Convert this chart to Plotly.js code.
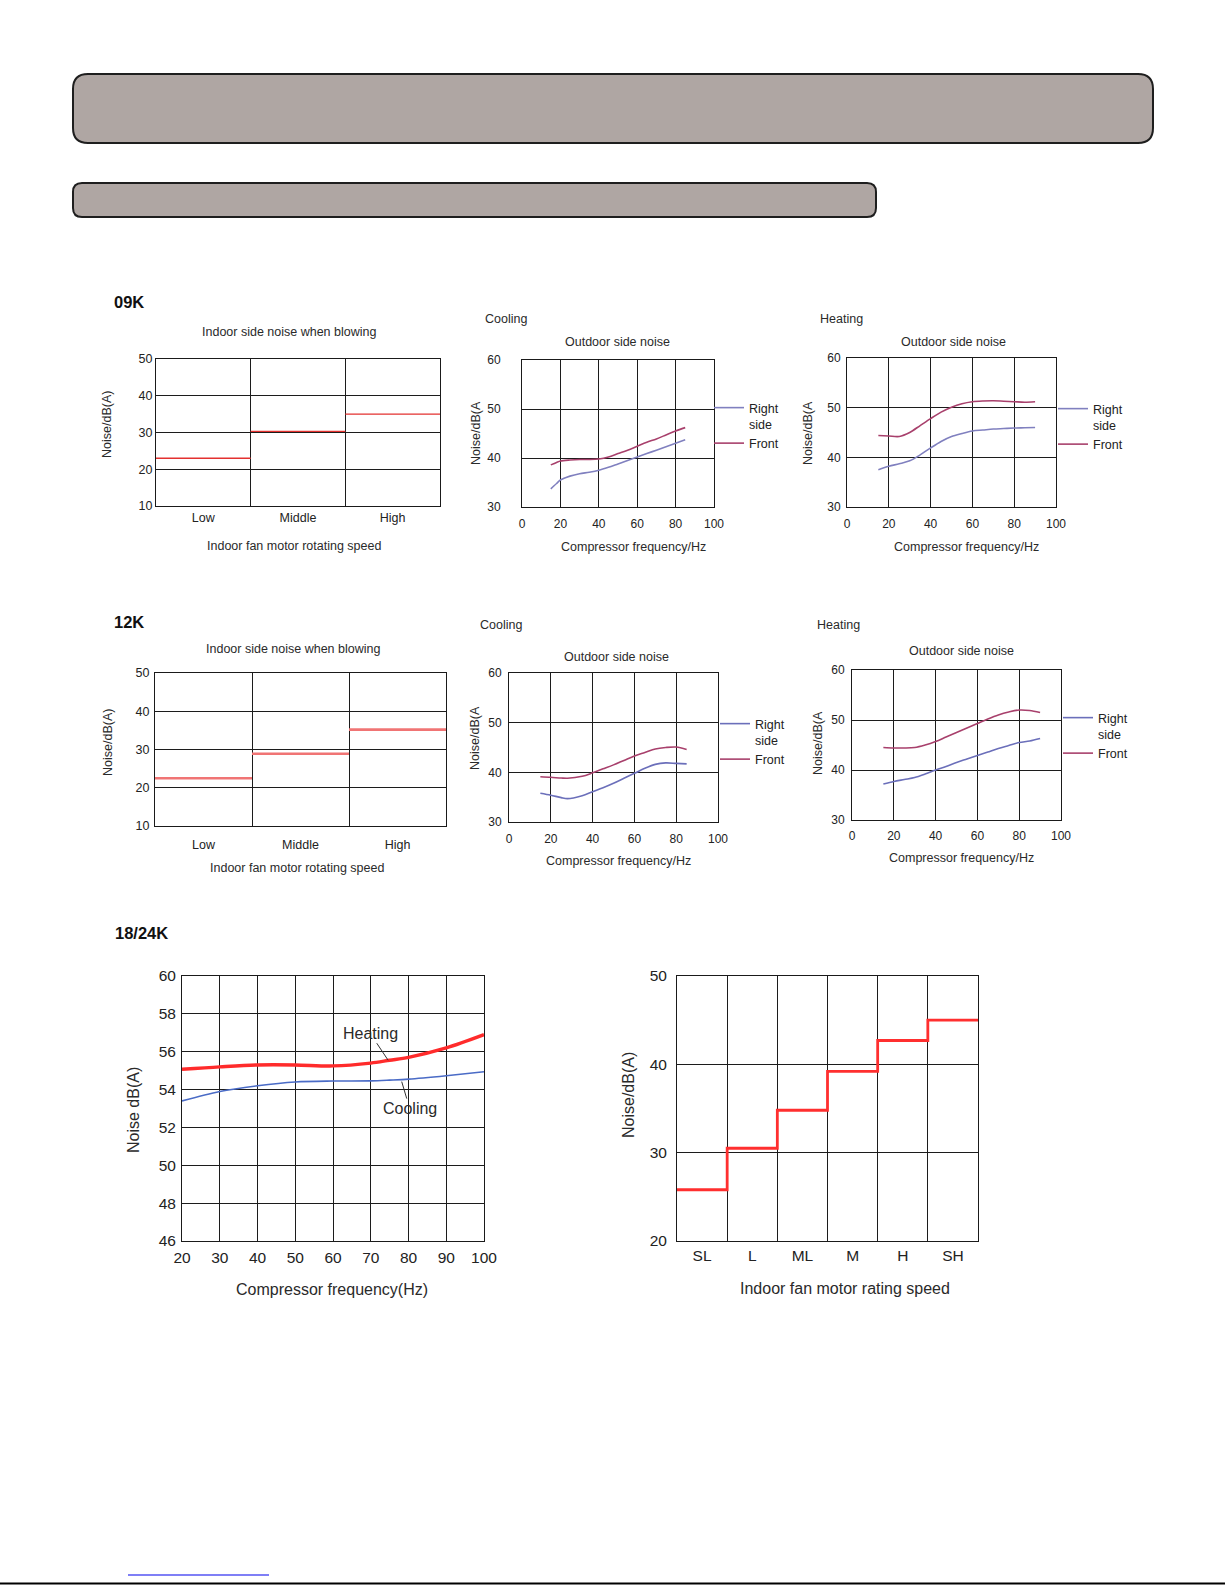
<!DOCTYPE html>
<html>
<head>
<meta charset="utf-8">
<script src="https://cdn.plot.ly/plotly-3.0.1.min.js"></script>
<style>
html,body{margin:0;padding:0;background:#fff;}
#chart{width:1225px;height:1585px;}
</style>
</head>
<body>
<div id="chart"></div>
<script>
// ---------------- DATA ----------------
const indoorSpeeds = ['Low', 'Middle', 'High'];
const indoor09K = [23, 30.3, 35];
const indoor12K = [22.5, 28.9, 35.2];

const freq09Cool  = [15, 18, 20, 25, 30, 35, 40, 45, 50, 55, 60, 65, 70, 75, 80, 85];
const right09Cool = [33.7, 34.8, 35.5, 36.3, 36.8, 37.1, 37.5, 38.1, 38.8, 39.5, 40.2, 40.9, 41.6, 42.3, 43.0, 43.7];
const front09Cool = [38.6, 39.1, 39.4, 39.6, 39.7, 39.7, 39.8, 40.2, 40.9, 41.6, 42.4, 43.2, 43.9, 44.7, 45.5, 46.2];

const freq09Heat  = [15, 20, 25, 30, 35, 40, 45, 50, 55, 60, 65, 70, 75, 80, 85, 90];
const right09Heat = [37.5, 38.2, 38.7, 39.3, 40.5, 41.9, 43.2, 44.2, 44.8, 45.3, 45.5, 45.7, 45.8, 45.9, 45.95, 46.0];
const front09Heat = [44.4, 44.3, 44.2, 45.0, 46.4, 47.8, 49.1, 50.1, 50.8, 51.2, 51.35, 51.4, 51.3, 51.2, 51.1, 51.2];

const freq12Cool  = [15, 20, 25, 28, 35, 40, 45, 50, 55, 60, 65, 70, 75, 80, 85];
const right12Cool = [35.8, 35.4, 34.9, 34.7, 35.3, 36.1, 36.9, 37.8, 38.8, 39.8, 40.8, 41.6, 41.9, 41.8, 41.7];
const front12Cool = [39.1, 39.0, 38.85, 38.8, 39.2, 39.9, 40.7, 41.5, 42.4, 43.3, 44.0, 44.7, 45.0, 45.1, 44.6];

const freq12Heat  = [15, 20, 25, 30, 35, 40, 45, 50, 55, 60, 65, 70, 75, 80, 85, 90];
const right12Heat = [37.2, 37.7, 38.1, 38.5, 39.2, 40.0, 40.7, 41.5, 42.2, 42.9, 43.6, 44.3, 44.9, 45.5, 45.8, 46.3];
const front12Heat = [44.5, 44.4, 44.4, 44.5, 45.0, 45.7, 46.6, 47.5, 48.4, 49.3, 50.2, 51.0, 51.6, 52.0, 51.9, 51.5];

const freq1824    = [20, 30, 40, 50, 60, 70, 75, 80, 90, 100];
const heating1824 = [55.07, 55.2, 55.3, 55.3, 55.25, 55.4, 55.55, 55.7, 56.2, 56.9];
const cooling1824 = [53.4, 53.9, 54.2, 54.4, 54.45, 54.46, 54.5, 54.55, 54.73, 54.94];

const ratingSpeeds = ['SL', 'L', 'ML', 'M', 'H', 'SH'];
const rating1824   = [25.8, 30.5, 34.8, 39.2, 42.7, 45.0];

// ---------------- LAYOUT HELPERS ----------------
const W = 1225, H = 1585;
const FONT = 'Liberation Sans, Arial, Helvetica, sans-serif';
const TXT = '#2a2a2a';
const GRID = '#1c1c1c';
const RIGHT_09 = '#8080bf';
const RIGHT_12 = '#6b6fba';
const FRONT_C = '#a8406c';

const layout = {
  width: W, height: H,
  margin: {l: 0, r: 0, t: 0, b: 0},
  paper_bgcolor: '#fff', plot_bgcolor: 'rgba(0,0,0,0)',
  showlegend: true,
  font: {family: FONT, color: TXT},
  annotations: [], shapes: []
};

const baseAx = {
  showline: true, mirror: true, linecolor: '#1a1a1a', linewidth: 1,
  showgrid: true, gridcolor: GRID, gridwidth: 1,
  zeroline: false, ticks: '', fixedrange: true
};

function addSub(n, p, xa, ya, fs, xOff, yGap) {
  const s = n === 1 ? '' : String(n);
  layout['xaxis' + s] = Object.assign({}, baseAx, {
    domain: [p.x0 / W, p.x1 / W], anchor: 'y' + s,
    tickfont: {family: FONT, size: fs, color: '#222'},
    ticklabelstandoff: Math.max(0, Math.round(xOff - 3 - fs * 0.5))
  }, xa);
  layout['yaxis' + s] = Object.assign({}, baseAx, {
    domain: [1 - p.y1 / H, 1 - p.y0 / H], anchor: 'x' + s,
    tickfont: {family: FONT, size: fs, color: '#222'},
    ticklabelstandoff: Math.max(0, Math.round(yGap - 3))
  }, ya);
}

function catAxis(cats) {
  return {
    range: [0, cats.length], tickmode: 'array',
    tickvals: cats.map((_, i) => i + 0.5), ticktext: cats, showgrid: false,
    minor: {tickmode: 'array', tickvals: cats.slice(1).map((_, i) => i + 1),
            showgrid: true, gridcolor: GRID, gridwidth: 1, ticks: ''}
  };
}

const numX = {range: [0, 100], tickmode: 'linear', tick0: 0, dtick: 20};
const numY = {range: [30, 60], tickmode: 'linear', tick0: 30, dtick: 10};

// subplot boxes (pixels)
const P = {
  a: {x0: 156, x1: 440, y0: 359, y1: 506},
  b: {x0: 522, x1: 714, y0: 360, y1: 507},
  c: {x0: 847, x1: 1056, y0: 358, y1: 507},
  d: {x0: 155, x1: 446, y0: 673, y1: 826},
  e: {x0: 509, x1: 718, y0: 673, y1: 822},
  f: {x0: 852, x1: 1061, y0: 670, y1: 820},
  g: {x0: 182, x1: 484, y0: 976, y1: 1241},
  h: {x0: 677, x1: 978, y0: 976, y1: 1241}
};

const indoorY = {range: [10, 50], tickmode: 'linear', tick0: 10, dtick: 10};
addSub(1, P.a, catAxis(indoorSpeeds), indoorY, 12.5, 9, 3);
addSub(2, P.b, numX, numY, 12, 15, 21);
addSub(3, P.c, numX, numY, 12, 15, 6);
addSub(4, P.d, catAxis(indoorSpeeds), indoorY, 12.5, 16, 5);
addSub(5, P.e, numX, numY, 12, 15, 7);
addSub(6, P.f, numX, numY, 12, 13.5, 7);
addSub(7, P.g, {range: [20, 100], tickmode: 'linear', tick0: 20, dtick: 10},
               {range: [46, 60], tickmode: 'linear', tick0: 46, dtick: 2}, 15.5, 12.5, 5);
addSub(8, P.h, catAxis(ratingSpeeds),
               {range: [20, 50], tickmode: 'linear', tick0: 20, dtick: 10}, 15.5, 9.5, 9);

// ---------------- TEXT ----------------
function T(text, x, y, o) {
  return Object.assign({
    text: text, x: x / W, y: 1 - y / H, xref: 'paper', yref: 'paper',
    showarrow: false, xanchor: 'center', yanchor: 'middle',
    font: {family: FONT, size: 12.5, color: TXT}
  }, o || {});
}
const bold = {xanchor: 'left', font: {family: FONT, size: 16.5, color: '#111'}};
const left = {xanchor: 'left'};
const rot = {textangle: -90};
const big = {font: {family: FONT, size: 16, color: TXT}};

layout.annotations.push(
  T('<b>09K</b>', 112, 302, bold),
  T('<b>12K</b>', 112, 622, bold),
  T('<b>18/24K</b>', 113, 933, bold),

  T('Indoor side noise when blowing', 289, 332),
  T('Indoor fan motor rotating speed', 294, 546),
  T('Noise/dB(A)', 107, 425, rot),

  T('Cooling', 483, 319, left),
  T('Outdoor side noise', 617, 342),
  T('Compressor frequency/Hz', 633, 547),
  T('Noise/dB(A', 476, 433, rot),

  T('Heating', 818, 319, left),
  T('Outdoor side noise', 953, 342),
  T('Compressor frequency/Hz', 966, 547),
  T('Noise/dB(A', 808, 433, rot),

  T('Indoor side noise when blowing', 293, 649),
  T('Indoor fan motor rotating speed', 297, 868),
  T('Noise/dB(A)', 108, 743, rot),

  T('Cooling', 478, 625, left),
  T('Outdoor side noise', 616, 657),
  T('Compressor frequency/Hz', 618, 861),
  T('Noise/dB(A', 475, 738, rot),

  T('Heating', 815, 625, left),
  T('Outdoor side noise', 961, 651),
  T('Compressor frequency/Hz', 961, 858),
  T('Noise/dB(A', 818, 743, rot),

  T('Compressor frequency(Hz)', 332, 1289, big),
  T('Noise dB(A)', 133, 1110, Object.assign({}, big, rot)),
  T('Indoor fan motor rating speed', 845, 1288, big),
  T('Noise/dB(A)', 628, 1095, Object.assign({}, big, rot)),

  {text: 'Heating', x: 74.6, y: 55.55, xref: 'x7', yref: 'y7', showarrow: true,
   arrowhead: 0, arrowwidth: 1, arrowcolor: '#333', ax: -18, ay: -27,
   font: {family: FONT, size: 16, color: TXT}},
  {text: 'Cooling', x: 78.2, y: 54.42, xref: 'x7', yref: 'y7', showarrow: true,
   arrowhead: 0, arrowwidth: 1, arrowcolor: '#333', ax: 8, ay: 27,
   font: {family: FONT, size: 16, color: TXT}}
);

// ---------------- DECORATIVE SHAPES ----------------
function rr(x0, y0, x1, y1, r) {
  const Q = (x, y) => (x / W).toFixed(5) + ',' + (1 - y / H).toFixed(5);
  return 'M' + Q(x0 + r, y0) + ' L' + Q(x1 - r, y0) + ' Q' + Q(x1, y0) + ' ' + Q(x1, y0 + r) +
         ' L' + Q(x1, y1 - r) + ' Q' + Q(x1, y1) + ' ' + Q(x1 - r, y1) +
         ' L' + Q(x0 + r, y1) + ' Q' + Q(x0, y1) + ' ' + Q(x0, y1 - r) +
         ' L' + Q(x0, y0 + r) + ' Q' + Q(x0, y0) + ' ' + Q(x0 + r, y0) + ' Z';
}
layout.shapes.push(
  {type: 'path', xref: 'paper', yref: 'paper', path: rr(73, 74, 1153, 143, 15),
   fillcolor: '#afa6a3', line: {color: '#1e1e1e', width: 2}, layer: 'below'},
  {type: 'path', xref: 'paper', yref: 'paper', path: rr(73, 183, 876, 217, 9),
   fillcolor: '#afa6a3', line: {color: '#1e1e1e', width: 2}, layer: 'below'},
  {type: 'line', xref: 'paper', yref: 'paper', x0: 128 / W, x1: 269 / W,
   y0: 1 - 1575 / H, y1: 1 - 1575 / H, line: {color: '#0000ee', width: 1.2}},
  {type: 'line', xref: 'paper', yref: 'paper', x0: 0, x1: 1,
   y0: 1 - 1583.5 / H, y1: 1 - 1583.5 / H, line: {color: '#000', width: 2}}
);

// ---------------- LEGENDS ----------------
function leg(x, y) {
  return {x: x / W, y: 1 - y / H, xanchor: 'left', yanchor: 'top',
          bgcolor: 'rgba(0,0,0,0)', borderwidth: 0, valign: 'top',
          tracegroupgap: 0, itemwidth: 30,
          font: {family: FONT, size: 12.5, color: '#222'}};
}
layout.legend  = leg(709, 393);
layout.legend2 = leg(1053, 394);
layout.legend3 = leg(715, 709);
layout.legend4 = leg(1058, 703);

// ---------------- TRACES ----------------
function segs(vals) {
  const x = [], y = [];
  vals.forEach((v, i) => { x.push(i, i + 1, null); y.push(v, v, null); });
  return {x: x, y: y};
}
const s09 = segs(indoor09K), s12 = segs(indoor12K);
const sp = {shape: 'spline', smoothing: 0.9};

function pair(xs, r, f, xa, ya, lg, rc) {
  return [
    {x: xs, y: r, xaxis: xa, yaxis: ya, mode: 'lines', name: 'Right<br>side', legend: lg,
     line: Object.assign({color: rc, width: 1.6}, sp), hoverinfo: 'skip'},
    {x: xs, y: f, xaxis: xa, yaxis: ya, mode: 'lines', name: 'Front', legend: lg,
     line: Object.assign({color: FRONT_C, width: 1.6}, sp), hoverinfo: 'skip'}
  ];
}

const data = [
  {x: s09.x, y: s09.y, xaxis: 'x', yaxis: 'y', mode: 'lines', showlegend: false,
   line: {color: '#e3312f', width: 1.3}, connectgaps: false},
  ...pair(freq09Cool, right09Cool, front09Cool, 'x2', 'y2', 'legend', RIGHT_09),
  ...pair(freq09Heat, right09Heat, front09Heat, 'x3', 'y3', 'legend2', RIGHT_09),
  {x: s12.x, y: s12.y, xaxis: 'x4', yaxis: 'y4', mode: 'lines', showlegend: false,
   line: {color: '#f07474', width: 2.6}, connectgaps: false},
  ...pair(freq12Cool, right12Cool, front12Cool, 'x5', 'y5', 'legend3', RIGHT_12),
  ...pair(freq12Heat, right12Heat, front12Heat, 'x6', 'y6', 'legend4', RIGHT_12),
  {x: freq1824, y: heating1824, xaxis: 'x7', yaxis: 'y7', mode: 'lines', showlegend: false,
   name: 'Heating', line: Object.assign({color: '#ff2b2b', width: 3.4}, sp)},
  {x: freq1824, y: cooling1824, xaxis: 'x7', yaxis: 'y7', mode: 'lines', showlegend: false,
   name: 'Cooling', line: Object.assign({color: '#4a6bc6', width: 1.6}, sp)},
  {x: ratingSpeeds.map((_, i) => i).concat([ratingSpeeds.length]),
   y: rating1824.concat([rating1824[rating1824.length - 1]]),
   xaxis: 'x8', yaxis: 'y8', mode: 'lines', showlegend: false,
   line: {color: '#ff2f2f', width: 2.8, shape: 'hv'}}
];

Plotly.newPlot('chart', data, layout, {displayModeBar: false, staticPlot: true});
</script>
</body>
</html>
